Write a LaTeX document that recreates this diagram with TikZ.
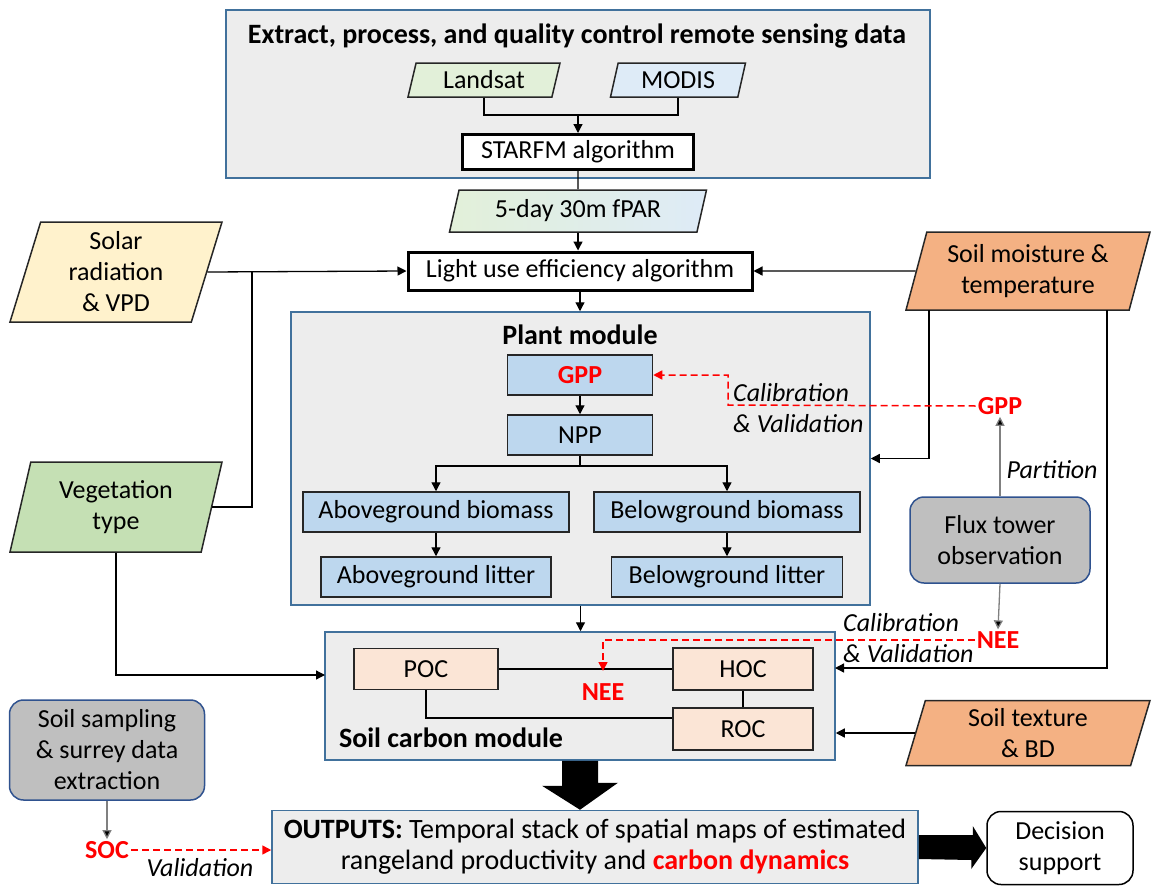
\documentclass[tikz,border=0pt]{standalone}
\usepackage{fontspec}
\setmainfont{Carlito}
\usetikzlibrary{shapes.geometric,arrows.meta,calc}
\definecolor{modfill}{HTML}{EDEDED}
\definecolor{modborder}{HTML}{41719C}
\definecolor{bluefill}{HTML}{BDD7EE}
\definecolor{landfill}{HTML}{E2F0D9}
\definecolor{modisfill}{HTML}{DEEBF7}
\definecolor{solarfill}{HTML}{FFF2CC}
\definecolor{vegfill}{HTML}{C5E0B4}
\definecolor{orangefill}{HTML}{F4B183}
\definecolor{socfill}{HTML}{FBE5D6}
\definecolor{grayfill}{HTML}{BFBFBF}
\definecolor{grayborder}{HTML}{2F528F}
\definecolor{redc}{HTML}{FF0000}
\definecolor{arrgray}{HTML}{808080}
\tikzset{
  every node/.style={font=\fontsize{26}{31}\selectfont, inner sep=2pt},
  module/.style={rectangle, draw=modborder, fill=modfill, line width=1.5pt},
  plainbox/.style={rectangle, draw=black, fill=white, line width=3pt, align=center},
  bbox/.style={rectangle, draw=black!85, fill=bluefill, line width=1.5pt, align=center},
  cbox/.style={rectangle, draw=black!85, fill=socfill, line width=1.5pt, align=center},
  para/.style={trapezium, trapezium left angle=70, trapezium right angle=110,
    trapezium stretches body, draw=black!85, line width=1.5pt, align=center},
  roundbox/.style={rectangle, rounded corners=14pt, draw=grayborder, fill=grayfill, line width=1.5pt, align=center},
  arr/.style={-{Triangle[length=9pt,width=9pt]}, line width=1.3pt},
  garr/.style={draw=arrgray, line width=1.3pt, -{Triangle[length=9pt,width=9pt,fill=black]}},
  calline/.style={draw=redc, dash pattern=on 7pt off 4pt, line width=1.5pt},
  calarr/.style={calline, -{Triangle[length=9pt,width=9pt]}},
  redlab/.style={text=redc, font=\fontsize{26}{31}\selectfont\bfseries},
  ital/.style={font=\fontsize{26}{31}\selectfont\itshape, align=left},
  boldlab/.style={font=\fontsize{28}{33}\selectfont\bfseries},
}
\begin{document}
\begin{tikzpicture}[x=1pt,y=-1pt]
\useasboundingbox (0,0) rectangle (1152,886);

% ---------- top group ----------
\node[module, minimum width=704pt, minimum height=168pt] (topbox) at (578,94) {};
\node[boldlab] (title) at (577,36) {Extract, process, and quality control remote sensing data};
\node[para, fill=landfill, minimum width=152pt, minimum height=34pt] (landsat) at (484,80) {Landsat};
\node[para, fill=modisfill, minimum width=135pt, minimum height=34pt] (modis) at (678,80) {MODIS};
\node[plainbox, minimum width=231pt, minimum height=35pt] (starfm) at (578,152) {STARFM algorithm};
\node[para, left color=landfill, right color=modisfill, middle color=landfill!50!modisfill,
      minimum width=257pt, minimum height=42pt] (fpar) at (578,211) {5-day 30m fPAR};
\node[plainbox, minimum width=344pt, minimum height=38pt] (lue) at (580,271) {Light use efficiency algorithm};

\coordinate (j1) at (578,115);
\draw[line width=1.3pt] (landsat.south) |- (j1);
\draw[line width=1.3pt] (modis.south) |- (j1);
\draw[arr] (j1) -- (starfm.north);
\draw[line width=1.3pt] (starfm.south) -- (fpar.north);
\draw[arr] (fpar.south) -- (fpar.south |- lue.north);

% ---------- left inputs ----------
\node[para, fill=solarfill, minimum width=212pt, minimum height=100pt] (solar) at (116,272) {Solar\\radiation\\\& VPD};
\node[para, fill=vegfill, minimum width=212pt, minimum height=90pt] (veg) at (116,507) {Vegetation\\type};

% ---------- right inputs ----------
\node[para, fill=orangefill, minimum width=244pt, minimum height=78pt] (soilm) at (1028,271) {Soil moisture \&\\temperature};
\node[para, fill=orangefill, minimum width=244pt, minimum height=65pt] (soilt) at (1028,733) {Soil texture\\\& BD};

% ---------- plant module ----------
\node[module, minimum width=579pt, minimum height=293pt] (plantmod) at (580.5,458.5) {};
\node[boldlab] (planttitle) at (580,335) {Plant module};
\node[bbox, minimum width=145pt, minimum height=40pt, redlab] (gpp) at (580,375) {GPP};
\node[bbox, minimum width=145pt, minimum height=40pt] (npp) at (580,435) {NPP};
\node[bbox, minimum width=266pt, minimum height=40pt] (agb) at (436,512) {Aboveground biomass};
\node[bbox, minimum width=266pt, minimum height=40pt] (bgb) at (727,512) {Belowground biomass};
\node[bbox, minimum width=230pt, minimum height=40pt] (agl) at (436,577) {Aboveground litter};
\node[bbox, minimum width=231pt, minimum height=40pt] (bgl) at (727,577) {Belowground litter};

\draw[arr] (lue.south) -- (lue.south |- plantmod.north);
\draw[arr] (gpp.south) -- (npp.north);
\coordinate (j3) at (580,466);
\draw[line width=1.3pt] (npp.south) -- (j3);
\draw[arr] (j3) -| (agb.north);
\draw[arr] (j3) -| (bgb.north);
\draw[arr] (agb.south) -- (agl.north);
\draw[arr] (bgb.south) -- (bgl.north);

% ---------- soil carbon module ----------
\node[module, minimum width=510pt, minimum height=128pt] (soilmod) at (580,696) {};
\node[boldlab] (soiltitle) at (451,738) {Soil carbon module};
\node[cbox, minimum width=144pt, minimum height=41pt] (poc) at (426,669) {POC};
\node[cbox, minimum width=140pt, minimum height=42pt] (hoc) at (743,669) {HOC};
\node[cbox, minimum width=140pt, minimum height=42pt] (roc) at (743,729) {ROC};
\node[redlab] (neein) at (603,692) {NEE};

\draw[line width=1.3pt] (poc.east) -- (hoc.west);
\draw[line width=1.3pt] (hoc.south) -- (roc.north);
\draw[line width=1.3pt] (poc.south) |- ([yshift=11pt]roc.west);

\draw[arr] (plantmod.south) -- (plantmod.south |- soilmod.north);

% connectors from inputs
\draw[arr] (solar.east) -- (lue.west);
\coordinate (j2) at (252,272);
\draw[line width=1.3pt] (veg.east) -| (j2);
\coordinate (vegin) at (325,675);
\draw[arr] (veg.south) |- (vegin);
\draw[arr] (soilm.west) -- (lue.east);
\coordinate (sm1) at (929,310);
\coordinate (sm2) at (1107,310);
\draw[arr] (sm1) |- (plantmod.east);
\coordinate (smin) at (835,668);
\draw[arr] (sm2) |- (smin);
\draw[arr] (soilt.west) -- (soilt.west -| soilmod.east);

% ---------- flux tower ----------
\node[roundbox, minimum width=180pt, minimum height=86pt] (flux) at (1000,540) {Flux tower\\observation};
\node[redlab] (gppr) at (1000,406) {GPP};
\node[redlab] (neer) at (998,640) {NEE};
\node[ital] (partition) at (1052,470) {Partition};
\draw[garr] (flux.north) -- (gppr.south);
\draw[garr] (flux.south) -- (neer.north);

\coordinate (c1) at (728,405);
\draw[calarr] (gppr.west) -- (c1) |- (gpp.east);
\node[ital, anchor=west] (cal1) at (731,408) {Calibration\\\& Validation};

\coordinate (c2) at (603,640);
\draw[calarr] (neer.west) -- (c2) -- ([yshift=-2pt]poc.east -| c2);
\node[ital, anchor=west] (cal2) at (841,638) {Calibration\\\& Validation};

% ---------- bottom ----------
\node[roundbox, minimum width=195pt, minimum height=100pt] (soilsamp) at (107,750) {Soil sampling\\\& surrey data\\extraction};
\node[redlab] (soc) at (107,850) {SOC};
\node[ital] (valid) at (200,868) {Validation};
\draw[garr] (soilsamp.south) -- (soc.north);

\node[module, minimum width=646pt, minimum height=73pt, align=center,
      font=\fontsize{28}{31}\selectfont] (outputs) at (595,847)
  {\textbf{OUTPUTS:} Temporal stack of spatial maps of estimated\\rangeland productivity and \textcolor{redc}{\textbf{carbon dynamics}}};
\node[rectangle, rounded corners=14pt, draw=black, fill=white, line width=1.5pt, align=center,
      minimum width=146pt, minimum height=73pt] (decision) at (1060,848) {Decision\\support};

\draw[calarr] (soc.east) -- (soc.east -| outputs.west);

% big arrows
\fill ($(soilmod.south)+(-18,0)$) -- ++(0,25) -- ++(-20,0) -- ($(outputs.north -| soilmod.south)$)
   -- ++(38,-27) -- ++(-20,0) -- ($(soilmod.south)+(18,0)$) -- cycle;
\fill ($(outputs.east)+(0,-12)$) -- ++(54,0) -- ++(0,-9) -- (decision.west) -- ++(-15,21) -- ++(0,-9) -- ($(outputs.east)+(0,12)$) -- cycle;
\end{tikzpicture}
\end{document}
